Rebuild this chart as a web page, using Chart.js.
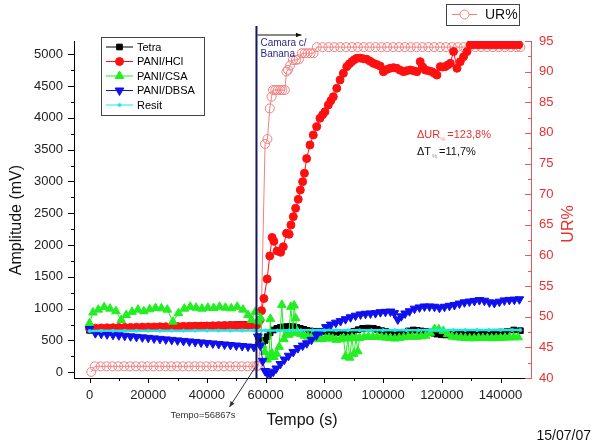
<!DOCTYPE html>
<html>
<head>
<meta charset="utf-8">
<script src="https://cdn.jsdelivr.net/npm/chart.js@4/dist/chart.umd.min.js"></script>
<style>
  html, body { margin: 0; padding: 0; background: #fff; }
</style>
</head>
<body>
<canvas id="chart" width="593" height="443"></canvas>
<script>
// ---- data ----
const EVENT_T = 56867;
const xTicks = [0, 20000, 40000, 60000, 80000, 100000, 120000, 140000];
const ampTicks = [0, 500, 1000, 1500, 2000, 2500, 3000, 3500, 4000, 4500, 5000];
const urTicks = [40, 45, 50, 55, 60, 65, 70, 75, 80, 85, 90, 95];

// shared time base before the event (s)
const preTempo = [0, 2000, 4000, 6000, 8000, 10000, 12000, 14000, 16000, 18000, 20000, 22000, 24000, 26000,
  28000, 30000, 32000, 34000, 36000, 38000, 40000, 42000, 44000, 46000, 48000, 50000, 52000, 54000, 56000];

const tetraPre = [660, 675, 684, 690, 694, 698, 701, 704, 707, 709, 712, 714, 717, 719, 722, 724, 727, 729,
  732, 734, 737, 739, 742, 744, 746, 749, 751, 753, 756];
const hclPre = [688, 694, 697, 699, 701, 703, 705, 706, 708, 710, 711, 713, 715, 716, 718, 720, 721, 723,
  725, 726, 728, 730, 731, 733, 735, 736, 738, 740, 741];
const dbsaPre = [680, 615, 605, 597, 589, 581, 573, 565, 557, 549, 541, 533, 525, 517, 509, 501, 493, 485,
  477, 469, 461, 453, 445, 437, 429, 421, 413, 405, 397];

// [tempo, value] after the event
const tetraPost = [[57500, 560], [58300, 500], [59000, 470], [59800, 500], [60500, 560], [61500, 620], [62600, 665],
  [63800, 690], [65000, 705], [66000, 712], [67100, 717], [68200, 720], [69400, 717], [70600, 705], [71800, 690],
  [73000, 675], [74000, 660], [75200, 650], [76500, 645], [78000, 642], [79500, 640], [81000, 635], [82500, 630],
  [84000, 625], [85500, 620], [87000, 622], [88500, 628], [90000, 645], [91500, 670], [93000, 690], [94800, 695],
  [96700, 692], [98000, 675], [99500, 655], [101000, 640], [102500, 625], [104000, 613], [105500, 620],
  [107000, 630], [108600, 650], [110300, 665], [111600, 660], [113000, 650], [114500, 640], [116000, 630],
  [117200, 615], [118300, 600], [119800, 590], [121200, 587], [122600, 600], [124000, 620], [126000, 615],
  [128000, 613], [130000, 618], [132000, 622], [134000, 626], [136000, 628], [138000, 630], [140000, 632],
  [142200, 640], [144500, 665], [146760, 654]];

const hclPost = [[57000, 745], [58000, 822], [58600, 969], [59400, 1160], [60500, 1467], [61400, 1829], [62200, 2120],
  [62800, 2060], [63900, 1907], [65100, 1887], [66000, 1975], [67100, 2186], [68000, 2170], [68600, 2316],
  [69400, 2447], [70200, 2579], [71100, 2720], [71800, 2866], [72600, 2997], [73200, 3130], [73960, 3360],
  [75090, 3574], [76210, 3731], [77370, 3862], [78500, 3994], [79400, 4050], [80200, 4097], [81330, 4203],
  [82200, 4270], [83040, 4333], [84210, 4465], [85330, 4597], [86460, 4701], [87620, 4806], [88500, 4850],
  [89320, 4884], [90200, 4915], [91030, 4937], [92150, 4940], [93300, 4930], [94440, 4921], [95600, 4890],
  [96690, 4858], [97800, 4840], [98980, 4816], [100100, 4726], [101200, 4760], [102400, 4780], [103500, 4790],
  [104680, 4780], [105800, 4750], [106930, 4726], [108000, 4740], [109220, 4753], [110400, 4740], [111500, 4726],
  [112630, 4884], [113500, 4800], [114340, 4753], [115500, 4740], [116620, 4726], [117500, 4700], [118330, 4673],
  [119460, 4806], [120300, 4800], [121160, 4806], [122000, 4830], [122870, 4858], [124000, 5042], [125160, 4780],
  [126280, 4884], [127410, 4963], [128560, 5042], [129700, 5148], [131200, 5150], [132700, 5150], [134200, 5150],
  [135700, 5150], [137200, 5150], [138700, 5150], [140200, 5150], [141700, 5150], [143200, 5150], [144700, 5150],
  [146200, 5150]];

const csaAll = [[0, 770], [1200, 940], [3000, 985], [5000, 1025], [7000, 1000], [9000, 960], [10800, 822],
  [12500, 900], [14500, 950], [16500, 985], [18500, 960], [20500, 990], [22500, 1010], [24500, 1005], [26500, 985],
  [28400, 796], [30300, 930], [32300, 1000], [34300, 1030], [36300, 1015], [38300, 1000], [40300, 1015],
  [42300, 1010], [44300, 1030], [46300, 1015], [48300, 1005], [50300, 1030], [52300, 985], [54000, 900],
  [55200, 822], [56500, 950], [57500, 800], [58300, 850], [59000, 420], [59700, 320], [60500, 200], [61200, 250],
  [61600, 840], [62100, 300], [62800, 240], [63700, 290], [64600, 400], [65500, 1060], [66200, 520], [67000, 600],
  [67900, 590], [68600, 1030], [69200, 620], [69700, 1050], [70200, 850], [70800, 640], [72000, 600], [73200, 575],
  [74400, 560], [75600, 550], [76800, 540], [78000, 520], [79200, 525], [80400, 530], [81600, 540], [82800, 530],
  [84000, 510], [85500, 520], [86500, 540], [87200, 250], [88000, 530], [88600, 230], [89400, 545], [90000, 290],
  [90800, 540], [91400, 330], [92000, 540], [93500, 555], [95000, 560], [96500, 555], [98000, 560], [99500, 550],
  [101000, 545], [102500, 540], [104000, 530], [105500, 540], [107000, 550], [108500, 560], [110000, 560],
  [111500, 560], [113000, 565], [114500, 575], [116000, 620], [117500, 680], [119000, 675], [120500, 650],
  [122000, 600], [123500, 560], [125000, 550], [126500, 545], [128000, 540], [129500, 535], [131000, 535],
  [132500, 540], [134000, 540], [135500, 538], [137000, 535], [138500, 538], [140000, 540], [141500, 545],
  [143000, 548], [144500, 550], [146000, 550]];

const dbsaPost = [[57300, 560], [58200, 420], [59000, 180], [59800, 20], [60600, -20], [61600, -25], [62600, 10],
  [63600, 60], [65000, 130], [66400, 200], [67800, 260], [69400, 320], [71000, 380], [72600, 420], [74000, 456],
  [75600, 510], [77300, 580], [78900, 650], [80500, 710], [82200, 750], [83900, 780], [85500, 805], [87200, 835],
  [88900, 865], [90600, 890], [92300, 910], [94000, 920], [95700, 925], [97400, 930], [99100, 945], [100800, 950],
  [102500, 955], [103800, 930], [105000, 830], [106200, 880], [107500, 925], [109000, 960], [110700, 1000],
  [112400, 1020], [114100, 1035], [115800, 1035], [117500, 1030], [119200, 1015], [120900, 1030], [122600, 1045],
  [124300, 1058], [126000, 1080], [127700, 1100], [129400, 1112], [131100, 1122], [132800, 1135], [134500, 1125],
  [136200, 1100], [137900, 1090], [139600, 1110], [141300, 1130], [143000, 1138], [144700, 1142], [146400, 1148]];

const resitAll = [[0, 650], [4000, 651], [8000, 651], [12000, 652], [16000, 652], [20000, 653], [24000, 653],
  [28000, 654], [32000, 654], [36000, 655], [40000, 655], [44000, 656], [48000, 656], [52000, 657], [56000, 657],
  [60000, 658], [64000, 658], [68000, 659], [72000, 659], [76000, 660], [80000, 660], [84000, 660], [88000, 661],
  [92000, 661], [96000, 661], [100000, 662], [104000, 662], [108000, 662], [112000, 662], [116000, 663],
  [120000, 663], [124000, 663], [128000, 663], [132000, 664], [136000, 664], [140000, 664], [144000, 664],
  [146760, 664]];

const urAll = [[600, 41.0], [1800, 41.9], [3800, 41.9], [5800, 41.9], [7800, 41.9], [9800, 41.9], [11800, 41.9],
  [13800, 41.9], [15800, 41.9], [17800, 41.9], [19800, 41.9], [21800, 41.9], [23800, 41.9], [25800, 41.9],
  [27800, 41.9], [29800, 41.9], [31800, 41.9], [33800, 41.9], [35800, 41.9], [37800, 41.9], [39800, 41.9],
  [41800, 41.9], [43800, 41.9], [45800, 41.9], [47800, 41.9], [49800, 41.9], [51800, 41.9], [53800, 41.9],
  [55800, 41.9], [57000, 42.0], [57500, 42.0], [58300, 45.9], [59800, 78.2], [60600, 79.0], [61400, 84.0],
  [62000, 85.9], [62500, 87.0], [63300, 87.0], [64100, 87.0], [64900, 87.0], [65700, 87.0], [66500, 87.0],
  [67100, 90.0], [67600, 90.3], [68300, 91.0], [69300, 91.9], [70300, 91.9], [71300, 92.0], [72300, 93.0],
  [73300, 93.0], [74300, 93.0], [75300, 93.0], [76300, 93.0], [77400, 94.0], [79400, 94.0], [81400, 94.0],
  [83400, 94.0], [85400, 94.0], [87400, 94.0], [89400, 94.0], [91400, 94.0], [93400, 94.0], [95400, 94.0],
  [97400, 94.0], [99400, 94.0], [101400, 94.0], [103400, 94.0], [105400, 94.0], [107400, 94.0], [109400, 94.0],
  [111400, 94.0], [113400, 94.0], [115400, 94.0], [117400, 94.0], [119400, 94.0], [121400, 94.0], [123400, 94.0],
  [125400, 94.0], [127400, 94.0], [129400, 94.0], [131400, 94.0], [133400, 94.0], [135400, 94.0], [137400, 94.0],
  [139400, 94.0], [141400, 94.0], [143400, 94.0], [145400, 94.0], [146760, 94.0]];

// ---- helpers ----
const FONT = "'Liberation Sans', Arial, sans-serif";
const zipPre = vals => preTempo.map((t, i) => ({ x: t, y: vals[i] }));
const fromPairs = pairs => pairs.map(p => ({ x: p[0], y: p[1] }));

const series = [
  { label: 'Tetra', data: zipPre(tetraPre).concat(fromPairs(tetraPost)), color: '#000000', style: 'rect', r: 4, order: 6 },
  { label: 'PANI/HCl', data: zipPre(hclPre).concat(fromPairs(hclPost)), color: '#ff1010', style: 'circle', r: 4, order: 5 },
  { label: 'PANI/CSA', data: fromPairs(csaAll), color: '#22ee22', style: 'triangle', r: 5, order: 4 },
  { label: 'PANI/DBSA', data: zipPre(dbsaPre).concat(fromPairs(dbsaPost)), color: '#1010ee', style: 'triangle', rot: 180, r: 5, order: 3 },
  { label: 'Resit', data: fromPairs(resitAll), color: '#22e5e5', style: 'circle', r: 1.5, lw: 2.5, order: 2 }
];

function mark(ctx, style, rot, x, y, r, fill, stroke) {
  ctx.beginPath();
  if (style === 'circle') ctx.arc(x, y, r, 0, Math.PI * 2);
  else if (style === 'rect') { const s = r * Math.SQRT1_2; ctx.rect(x - s, y - s, 2 * s, 2 * s); }
  else {
    const d = rot === 180 ? 1 : -1;
    ctx.moveTo(x, y + d * r);
    ctx.lineTo(x + r * 0.866, y - d * r / 2);
    ctx.lineTo(x - r * 0.866, y - d * r / 2);
    ctx.closePath();
  }
  if (fill) { ctx.fillStyle = fill; ctx.fill(); }
  if (stroke) { ctx.strokeStyle = stroke; ctx.lineWidth = 1; ctx.stroke(); }
}

function arrow(ctx, x1, y1, x2, y2, head) {
  ctx.beginPath(); ctx.moveTo(x1, y1); ctx.lineTo(x2, y2); ctx.stroke();
  const a = Math.atan2(y2 - y1, x2 - x1);
  ctx.beginPath();
  ctx.moveTo(x2, y2);
  ctx.lineTo(x2 - head * Math.cos(a - 0.4), y2 - head * Math.sin(a - 0.4));
  ctx.lineTo(x2 - head * Math.cos(a + 0.4), y2 - head * Math.sin(a + 0.4));
  ctx.closePath(); ctx.fill();
}

const minorOf = t => t.slice(1).map((v, i) => (v + t[i]) / 2);

const decor = {
  id: 'decor',
  afterDatasetsDraw(chart) {
    const { ctx, chartArea: a, scales } = chart;
    const ex = scales.x.getPixelForValue(EVENT_T);
    ctx.save();
    ctx.strokeStyle = '#16165e'; ctx.lineWidth = 2;
    ctx.beginPath(); ctx.moveTo(ex, 26); ctx.lineTo(ex, a.bottom); ctx.stroke();
    ctx.restore();
  },
  afterDraw(chart) {
    const { ctx, chartArea: a, scales } = chart;
    const ex = scales.x.getPixelForValue(EVENT_T);
    ctx.save();
    // tick marks
    ctx.lineWidth = 1;
    ctx.strokeStyle = '#000';
    ampTicks.forEach(v => { const y = Math.round(scales.y.getPixelForValue(v)) + 0.5; ctx.beginPath(); ctx.moveTo(a.left - 6, y); ctx.lineTo(a.left, y); ctx.stroke(); });
    minorOf(ampTicks).forEach(v => { const y = Math.round(scales.y.getPixelForValue(v)) + 0.5; ctx.beginPath(); ctx.moveTo(a.left - 3, y); ctx.lineTo(a.left, y); ctx.stroke(); });
    xTicks.forEach(v => { const x = Math.round(scales.x.getPixelForValue(v)) + 0.5; ctx.beginPath(); ctx.moveTo(x, a.bottom); ctx.lineTo(x, a.bottom + 5); ctx.stroke(); });
    minorOf(xTicks).forEach(v => { const x = Math.round(scales.x.getPixelForValue(v)) + 0.5; ctx.beginPath(); ctx.moveTo(x, a.bottom); ctx.lineTo(x, a.bottom + 3); ctx.stroke(); });
    ctx.strokeStyle = '#e05a5a';
    urTicks.forEach(v => { const y = Math.round(scales.y2.getPixelForValue(v)) + 0.5; ctx.beginPath(); ctx.moveTo(a.right - 6, y); ctx.lineTo(a.right, y); ctx.stroke(); });
    minorOf(urTicks).forEach(v => { const y = Math.round(scales.y2.getPixelForValue(v)) + 0.5; ctx.beginPath(); ctx.moveTo(a.right - 3, y); ctx.lineTo(a.right, y); ctx.stroke(); });

    // event arrows and notes
    ctx.strokeStyle = '#111'; ctx.fillStyle = '#111'; ctx.lineWidth = 1;
    arrow(ctx, ex + 1, 35, ex + 45, 35, 6);
    ctx.fillStyle = '#2a2a8a';
    ctx.font = '10px ' + FONT; ctx.textBaseline = 'middle'; ctx.textAlign = 'left';
    ctx.fillText('Camara c/', ex + 4, 43.5);
    ctx.fillText('Banana', ex + 4, 54.5);
    ctx.strokeStyle = '#333'; ctx.fillStyle = '#333';
    arrow(ctx, ex - 1, 367, ex - 27, 407, 6);
    ctx.font = '9.5px ' + FONT; ctx.textAlign = 'center';
    ctx.fillText('Tempo=56867s', 203, 415);

    // delta annotations
    ctx.textAlign = 'left';
    let x0 = 417;
    ctx.font = '11px ' + FONT; ctx.fillStyle = '#e83030';
    ctx.fillText('\u0394UR', x0, 135); x0 += ctx.measureText('\u0394UR').width;
    ctx.font = '6px ' + FONT; ctx.fillStyle = '#e89090';
    ctx.fillText('%', x0, 139); x0 += 7;
    ctx.font = '11px ' + FONT; ctx.fillStyle = '#e83030';
    ctx.fillText('=123,8%', x0, 135);
    x0 = 417;
    ctx.fillStyle = '#111';
    ctx.fillText('\u0394T', x0, 152); x0 += ctx.measureText('\u0394T').width;
    ctx.font = '6px ' + FONT; ctx.fillStyle = '#999';
    ctx.fillText('%', x0 + 1, 156); x0 += 8;
    ctx.font = '11px ' + FONT; ctx.fillStyle = '#111';
    ctx.fillText('=11,7%', x0, 152);

    // main legend
    ctx.strokeStyle = '#444'; ctx.lineWidth = 1;
    ctx.strokeRect(101.5, 37.5, 103, 78);
    series.forEach((s, i) => {
      const y = 47 + i * 14.5;
      ctx.strokeStyle = s.color; ctx.lineWidth = 1;
      ctx.beginPath(); ctx.moveTo(106, y); ctx.lineTo(133, y); ctx.stroke();
      mark(ctx, s.style, s.rot, 119.5, y, s.r, s.color, s.color);
      ctx.fillStyle = '#000'; ctx.font = '11px ' + FONT;
      ctx.fillText(s.label, 137, y + 0.5);
    });

    // UR legend
    ctx.strokeStyle = '#444'; ctx.lineWidth = 1;
    ctx.strokeRect(446.5, 4.5, 73, 21);
    ctx.strokeStyle = '#f08080';
    ctx.beginPath(); ctx.moveTo(452, 14.5); ctx.lineTo(477, 14.5); ctx.stroke();
    mark(ctx, 'circle', 0, 464.5, 14.5, 4.5, '#fff', '#f08080');
    ctx.fillStyle = '#111'; ctx.font = '14px ' + FONT;
    ctx.fillText('UR%', 485, 15);

    // axis titles and date
    ctx.font = '16px ' + FONT; ctx.textAlign = 'center';
    ctx.fillStyle = '#111';
    ctx.fillText('Tempo (s)', 302, 421);
    ctx.save(); ctx.translate(16.5, 220); ctx.rotate(-Math.PI / 2); ctx.fillText('Amplitude (mV)', 0, 0); ctx.restore();
    ctx.fillStyle = '#e83030';
    ctx.save(); ctx.translate(569, 224); ctx.rotate(-Math.PI / 2); ctx.fillText('UR%', 0, 0); ctx.restore();
    ctx.fillStyle = '#111'; ctx.font = '14px ' + FONT; ctx.textAlign = 'right';
    ctx.fillText('15/07/07', 591, 436);
    ctx.restore();
  }
};

const datasets = series.map(s => ({
  label: s.label,
  data: s.data,
  yAxisID: 'y',
  showLine: true,
  borderColor: s.color,
  borderWidth: s.lw || 1,
  backgroundColor: s.color,
  pointStyle: s.style,
  pointRotation: s.rot || 0,
  pointRadius: s.r,
  pointBorderWidth: 1,
  pointBorderColor: s.color,
  pointBackgroundColor: s.color,
  order: s.order
}));
datasets.push({
  label: 'UR%',
  data: fromPairs(urAll),
  yAxisID: 'y2',
  showLine: true,
  borderColor: '#f08080',
  borderWidth: 1,
  pointStyle: 'circle',
  pointRadius: 4.5,
  pointBorderWidth: 1,
  pointBorderColor: '#f08080',
  pointBackgroundColor: 'rgba(255,255,255,0)',
  order: 7
});

const tickFont = { family: FONT, size: 13 };
new Chart(document.getElementById('chart'), {
  type: 'scatter',
  data: { datasets },
  options: {
    responsive: false,
    animation: false,
    events: [],
    layout: { padding: { top: 41, left: 0, right: 0, bottom: 0 } },
    plugins: { legend: { display: false }, tooltip: { enabled: false } },
    scales: {
      x: {
        type: 'linear', min: -5280, max: 150370,
        afterFit: s => { s.height = 65; },
        afterBuildTicks: s => { s.ticks = xTicks.map(v => ({ value: v })); },
        ticks: { color: '#222', font: tickFont, padding: 10, maxRotation: 0, autoSkip: false, callback: v => String(v) },
        grid: { display: false, drawTicks: false },
        border: { color: '#000', width: 1 }
      },
      y: {
        position: 'left', min: -90, max: 5209,
        afterFit: s => { s.width = 74; },
        afterBuildTicks: s => { s.ticks = ampTicks.map(v => ({ value: v })); },
        ticks: { color: '#222', font: tickFont, padding: 11, callback: v => String(v) },
        grid: { display: false, drawTicks: false },
        border: { color: '#000', width: 1 }
      },
      y2: {
        position: 'right', min: 40, max: 95,
        afterFit: s => { s.width = 62; },
        afterBuildTicks: s => { s.ticks = urTicks.map(v => ({ value: v })); },
        ticks: { color: '#e83030', font: tickFont, padding: 8, callback: v => String(v) },
        grid: { display: false, drawTicks: false },
        border: { color: '#e05a5a', width: 1 }
      }
    }
  },
  plugins: [decor]
});
</script>
</body>
</html>
